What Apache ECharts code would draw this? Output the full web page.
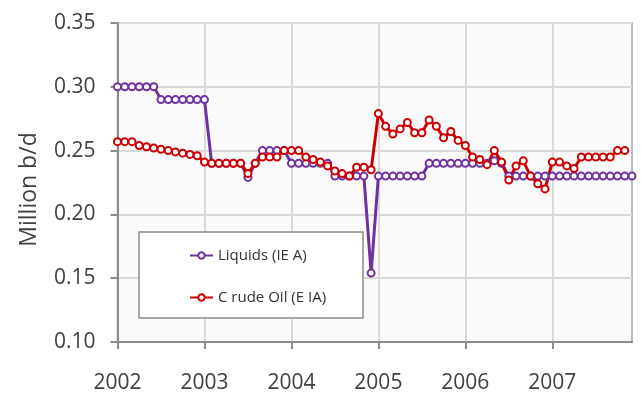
<!DOCTYPE html>
<html>
<head>
<meta charset="utf-8">
<script src="https://cdn.jsdelivr.net/npm/echarts@6/dist/echarts.min.js"></script>
<style>
html,body{margin:0;padding:0;background:#fff;}
#c{width:641px;height:396px;}
</style>
</head>
<body>
<div id="c"></div>
<script>
// Monthly categories Jan 2002 .. Dec 2007
var years = ['2002','2003','2004','2005','2006','2007'];
var months = [];
years.forEach(function(y){ for (var m = 1; m <= 12; m++) months.push(y + '-' + (m < 10 ? '0' + m : m)); });

var xTickLabels = ['2002','2003','2004','2005','2006','2007'];
var yTicks = [0.10, 0.15, 0.20, 0.25, 0.30, 0.35];

var seriesNames = ['Liquids (IE A)', 'C rude Oil (E IA)'];

// Liquids (IEA), million b/d
var liquids = [
  0.30,0.30,0.30,0.30,0.30,0.30,0.29,0.29,0.29,0.29,0.29,0.29,
  0.29,0.24,0.24,0.24,0.24,0.24,0.229,0.24,0.25,0.25,0.25,0.25,
  0.24,0.24,0.24,0.24,0.24,0.24,0.23,0.23,0.23,0.23,0.23,0.154,
  0.23,0.23,0.23,0.23,0.23,0.23,0.23,0.24,0.24,0.24,0.24,0.24,
  0.24,0.24,0.24,0.24,0.242,0.24,0.23,0.23,0.23,0.23,0.23,0.23,
  0.23,0.23,0.23,0.23,0.23,0.23,0.23,0.23,0.23,0.23,0.23,0.23
];

// Crude Oil (EIA), million b/d
var crude = [
  0.257,0.257,0.257,0.254,0.253,0.252,0.251,0.250,0.249,0.248,0.247,0.246,
  0.241,0.240,0.240,0.240,0.240,0.240,0.232,0.240,0.245,0.245,0.245,0.250,
  0.250,0.250,0.245,0.243,0.241,0.238,0.234,0.232,0.230,0.237,0.237,0.235,
  0.279,0.269,0.263,0.267,0.272,0.264,0.264,0.274,0.269,0.260,0.265,0.258,
  0.254,0.245,0.243,0.239,0.250,0.241,0.227,0.238,0.242,0.230,0.224,0.220,
  0.241,0.241,0.238,0.236,0.245,0.245,0.245,0.245,0.245,0.250,0.250,null
];

var textColor = '#404040';
var fontFam = '"Open Sans", "Liberation Sans", sans-serif';

function isJan(i){ return i % 12 === 0; }

var chart = echarts.init(document.getElementById('c'), null, {renderer:'canvas'});
chart.setOption({
  animation: false,
  backgroundColor: '#ffffff',
  grid: {
    left: 117.5, right: 9, top: 23, bottom: 54,
    show: true, backgroundColor: '#fafafa', borderColor: '#a6a6a6', borderWidth: 1.5
  },
  graphic: [{
    type: 'rect', z: 5,
    shape: {x: 139, y: 232, width: 224, height: 86},
    style: {fill: '#ffffff', stroke: '#8c8c8c', lineWidth: 1.5}
  }],
  legend: {
    z: 6,
    orient: 'vertical',
    left: 184, top: 243,
    itemWidth: 23, itemHeight: 8,
    itemGap: 27,
    textStyle: {fontSize: 15, color: '#333', fontFamily: fontFam},
    data: seriesNames
  },
  xAxis: {
    type: 'category',
    data: months,
    boundaryGap: false,
    axisLine: {show: true, lineStyle: {color: '#8c8c8c', width: 2}},
    axisTick: {show: true, length: 7, interval: function(i){ return isJan(i); }, lineStyle: {color: '#8c8c8c', width: 2}},
    axisLabel: {
      interval: function(i){ return isJan(i); },
      formatter: function(v, i){ return xTickLabels[Math.floor(i / 12)]; },
      margin: 31, fontSize: 21, color: textColor, fontFamily: fontFam
    },
    splitLine: {show: true, interval: function(i){ return isJan(i) && i > 0; }, lineStyle: {color: '#d9d9d9', width: 2}}
  },
  yAxis: {
    type: 'value',
    min: yTicks[0], max: yTicks[yTicks.length - 1], interval: 0.05,
    name: 'Million b/d', nameLocation: 'middle', nameRotate: 90, nameGap: 77,
    nameTextStyle: {fontSize: 23, color: textColor, fontFamily: fontFam, padding: [0, 14, 0, 0]},
    axisLine: {show: true, lineStyle: {color: '#8c8c8c', width: 2}},
    axisTick: {show: true, length: 7, lineStyle: {color: '#8c8c8c', width: 2}},
    axisLabel: {
      formatter: function(v){ return v.toFixed(2); },
      margin: 22, fontSize: 21, color: textColor, fontFamily: fontFam
    },
    splitLine: {show: true, lineStyle: {color: '#d9d9d9', width: 2}}
  },
  series: [
    {
      name: seriesNames[0], type: 'line', data: liquids,
      symbol: 'circle', symbolSize: 7, showSymbol: true, showAllSymbol: true,
      lineStyle: {color: '#7030a0', width: 3},
      itemStyle: {color: '#ffffff', borderColor: '#7030a0', borderWidth: 2}
    },
    {
      name: seriesNames[1], type: 'line', data: crude,
      symbol: 'circle', symbolSize: 7, showSymbol: true, showAllSymbol: true,
      lineStyle: {color: '#cc0000', width: 3},
      itemStyle: {color: '#ffffff', borderColor: '#cc0000', borderWidth: 2}
    }
  ]
});
</script>
</body>
</html>
